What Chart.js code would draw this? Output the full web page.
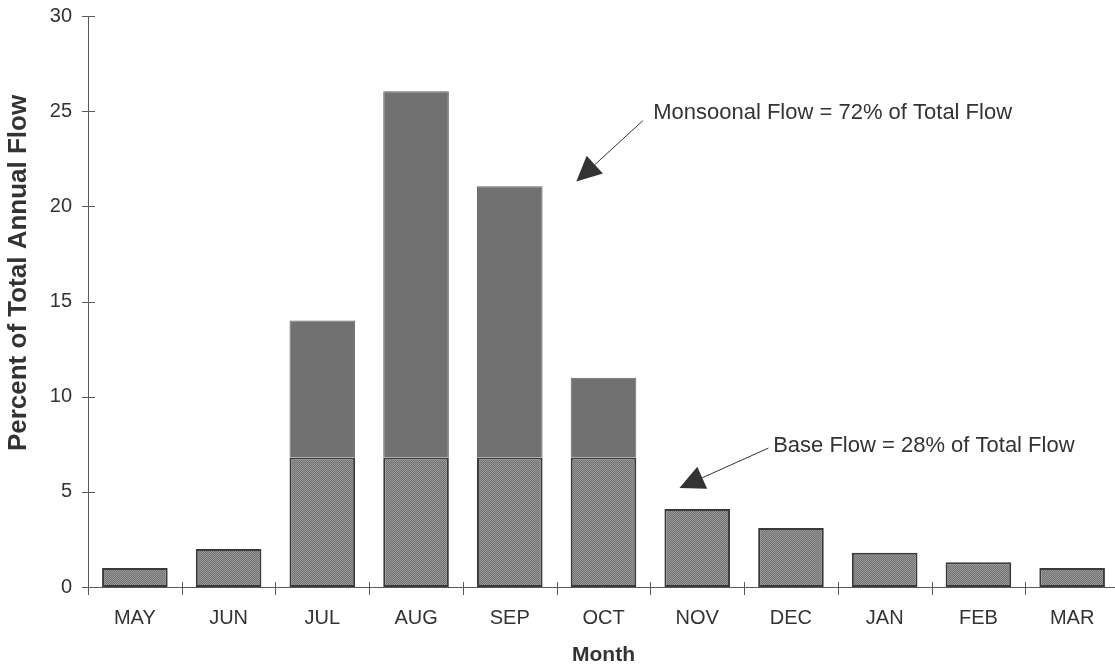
<!DOCTYPE html>
<html>
<head>
<meta charset="utf-8">
<script src="https://cdn.jsdelivr.net/npm/chart.js@4/dist/chart.umd.min.js"></script>
<style>
  html, body { margin: 0; padding: 0; background: #ffffff; overflow: hidden; }
  #wrap { width: 1120px; height: 668px; }
</style>
</head>
<body>
<div id="wrap"><canvas id="flow" width="1120" height="668"></canvas></div>
<script>
// Monthly share of total annual flow (%)
const months = ['MAY', 'JUN', 'JUL', 'AUG', 'SEP', 'OCT', 'NOV', 'DEC', 'JAN', 'FEB', 'MAR'];
const baseFlow = [1.0, 2.0, 6.8, 6.8, 6.8, 6.8, 4.1, 3.1, 1.8, 1.3, 1.0];
const monsoonFlow = [0, 0, 7.2, 19.25, 14.25, 4.2, 0, 0, 0, 0, 0];
const yTicks = [0, 5, 10, 15, 20, 25, 30];

// Callouts, placed in data units (x = category index, y = percent)
const callouts = [
  { text: 'Monsoonal Flow = 72% of Total Flow', from: [5.42, 24.5], tip: [4.71, 21.3], label: [5.53, 24.9] },
  { text: 'Base Flow = 28% of Total Flow', from: [6.76, 7.3], tip: [5.81, 5.2], label: [6.81, 7.4] }
];

const INK = '#333333';
const AXIS = '#5a5a5a';

// fine halftone-like fill for the bars
function halftone(a, b) {
  const c = document.createElement('canvas');
  c.width = 2; c.height = 2;
  const g = c.getContext('2d');
  g.fillStyle = a; g.fillRect(0, 0, 2, 2);
  g.fillStyle = b; g.fillRect(0, 0, 1, 1); g.fillRect(1, 1, 1, 1);
  return g.createPattern(c, 'repeat');
}
const baseFill = halftone('#727272', '#989898');

const axesPlugin = {
  id: 'axesAndCallouts',
  beforeDatasetsDraw(chart) {
    const { ctx, chartArea, scales: { x, y } } = chart;
    ctx.save();
    ctx.strokeStyle = AXIS;
    ctx.lineWidth = 1;
    ctx.beginPath();
    // y axis line
    ctx.moveTo(chartArea.left + 0.5, y.getPixelForValue(30));
    ctx.lineTo(chartArea.left + 0.5, y.getPixelForValue(0));
    // x axis line
    ctx.moveTo(chartArea.left, y.getPixelForValue(0) + 0.5);
    ctx.lineTo(chartArea.right, y.getPixelForValue(0) + 0.5);
    // y tick marks crossing the axis
    yTicks.forEach(v => {
      const py = Math.round(y.getPixelForValue(v)) + 0.5;
      ctx.moveTo(chartArea.left - 6, py);
      ctx.lineTo(chartArea.left + 7, py);
    });
    // x tick marks at category boundaries
    for (let i = 0; i <= months.length; i++) {
      const px = Math.round(x.getPixelForValue(i - 0.5)) + 0.5;
      const py = y.getPixelForValue(0);
      ctx.moveTo(px, py - 5);
      ctx.lineTo(px, py + 8);
    }
    ctx.stroke();
    ctx.restore();
  },
  afterDraw(chart) {
    const { ctx, scales: { x, y } } = chart;
    const P = (pt) => [x.getPixelForValue(pt[0]), y.getPixelForValue(pt[1])];
    ctx.save();
    ctx.strokeStyle = INK;
    ctx.fillStyle = INK;
    ctx.lineWidth = 1;
    callouts.forEach(c => {
      const [x0, y0] = P(c.from);
      const [x1, y1] = P(c.tip);
      const ang = Math.atan2(y1 - y0, x1 - x0);
      const len = 25, half = 12;
      const bx = x1 - len * Math.cos(ang), by = y1 - len * Math.sin(ang);
      ctx.beginPath();
      ctx.moveTo(x0, y0);
      ctx.lineTo(bx, by);
      ctx.stroke();
      ctx.beginPath();
      ctx.moveTo(x1, y1);
      ctx.lineTo(bx + half * Math.sin(ang), by - half * Math.cos(ang));
      ctx.lineTo(bx - half * Math.sin(ang), by + half * Math.cos(ang));
      ctx.closePath();
      ctx.fill();
      const [tx, ty] = P(c.label);
      ctx.font = '22px "Liberation Sans", Arial, sans-serif';
      ctx.textAlign = 'left';
      ctx.textBaseline = 'middle';
      ctx.fillText(c.text, tx, ty);
    });
    // vertical axis title
    ctx.font = 'bold 26px "Liberation Sans", Arial, sans-serif';
    ctx.textAlign = 'center';
    ctx.textBaseline = 'middle';
    ctx.translate(19, y.getPixelForValue(16.5));
    ctx.rotate(-Math.PI / 2);
    ctx.fillText('Percent of Total Annual Flow', 0, 0);
    ctx.restore();
  }
};

new Chart(document.getElementById('flow'), {
  type: 'bar',
  data: {
    labels: months,
    datasets: [
      {
        label: 'Base Flow',
        data: baseFlow,
        backgroundColor: baseFill,
        borderColor: '#3a3a3a',
        borderWidth: 2,
        borderSkipped: false,
        barPercentage: 0.7,
        categoryPercentage: 1.0
      },
      {
        label: 'Monsoonal Flow',
        data: monsoonFlow,
        backgroundColor: '#717171',
        borderColor: '#666666',
        borderWidth: 1,
        borderSkipped: 'bottom',
        barPercentage: 0.7,
        categoryPercentage: 1.0
      }
    ]
  },
  options: {
    responsive: false,
    animation: false,
    devicePixelRatio: 1,
    layout: { padding: { left: 0, right: 1, top: 16, bottom: 0 } },
    plugins: { legend: { display: false }, tooltip: { enabled: false } },
    scales: {
      x: {
        stacked: true,
        grid: { display: false, drawTicks: false },
        border: { display: false },
        ticks: {
          color: INK,
          padding: 19,
          font: { family: '"Liberation Sans", Arial, sans-serif', size: 20 }
        },
        title: {
          display: true,
          text: 'Month',
          color: INK,
          padding: { top: 0, bottom: 0 },
          font: { family: '"Liberation Sans", Arial, sans-serif', size: 21, weight: 'bold' }
        },
        afterFit(scale) { scale.height = 81; }
      },
      y: {
        stacked: true,
        min: 0,
        max: 30,
        grid: { display: false, drawTicks: false },
        border: { display: false },
        afterBuildTicks(scale) { scale.ticks = yTicks.map(v => ({ value: v })); },
        ticks: {
          color: INK,
          padding: 16,
          font: { family: '"Liberation Sans", Arial, sans-serif', size: 20 }
        },
        afterFit(scale) {
          scale.width = 88;
          scale.paddingTop = 0;
          scale.paddingBottom = 0;
        }
      }
    }
  },
  plugins: [axesPlugin]
});
</script>
</body>
</html>
